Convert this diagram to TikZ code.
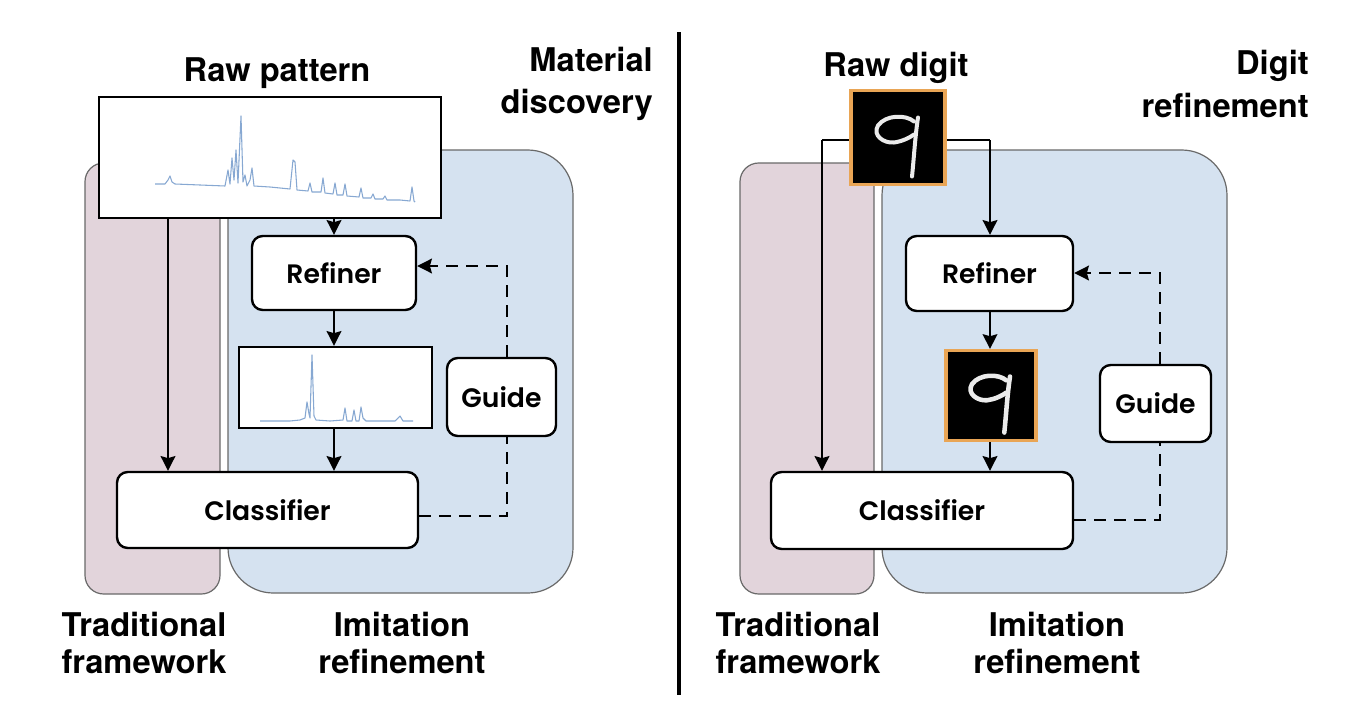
\documentclass[tikz,border=0pt]{standalone}
\usepackage{fontspec}
\setmainfont{TeX Gyre Heros}
\newfontfamily\nodefont{Poppins}[BoldFont={* SemiBold}]
\usetikzlibrary{arrows.meta}
\definecolor{pinkbg}{RGB}{226,212,219}
\definecolor{bluebg}{RGB}{213,226,240}
\definecolor{bgedge}{RGB}{105,105,105}
\definecolor{specblue}{RGB}{135,168,210}
\definecolor{orangeedge}{RGB}{233,165,85}
\tikzset{
  panel/.style={draw=bgedge, line width=0.9pt},
  procbox/.style={draw=black, line width=1.8pt, fill=white, rounded corners=8pt, font=\nodefont\bfseries\fontsize{20}{23}\selectfont, inner sep=0pt},
  imgbox/.style={draw=black, line width=1.8pt, fill=white, inner sep=0pt},
  digbox/.style={draw=orangeedge, line width=2.4pt, fill=black, inner sep=0pt, minimum width=#1, minimum height=#1},
  lab/.style={font=\bfseries\fontsize{24.5}{27.75}\selectfont, align=center, inner sep=0pt},
  toplab/.style={font=\bfseries\fontsize{24.5}{32}\selectfont, align=right, inner sep=0pt, anchor=east},
  tip/.style={-{Stealth[width=11pt,length=11pt,inset=1.5pt]}},
  arr/.style={line width=1.7pt, tip},
  plainln/.style={line width=1.7pt},
  dsh/.style={line width=1.7pt, dash pattern=on 9pt off 6pt},
  spec/.style={draw=specblue, line width=0.8pt, line join=round},
  digit/.style={draw=white!92!black, line width=3pt, line cap=round, line join=round},
}
\begin{document}
\begin{tikzpicture}[x=0.75pt,y=-0.75pt]
\useasboundingbox (0,0) rectangle (1346,714);
% ---------- LEFT PANEL ----------
\fill[pinkbg, panel] (85,163) [rounded corners=14pt] rectangle (220,594);
\fill[bluebg, panel] (228,150) [rounded corners=34pt] rectangle (573,593);
\node[imgbox, minimum width=256.5pt, minimum height=90.75pt] (rawpat) at (270,157.5) {};
\draw[spec] plot coordinates {(155,184) (165,184) (168,180) (170,176) (172,182) (175,184) (200,185) (225,186) (228,170) (230,184) (232,158) (234,180) (236,150) (238,183) (241,116) (243,182) (245,175) (247,186) (250,180) (252,168) (254,186) (270,187) (290,189) (293,160) (295,162) (297,190) (308,191) (310,183) (312,192) (321,192) (323,178) (325,193) (333,194) (335,183) (337,195) (343,195) (345,184) (347,196) (359,197) (361,188) (363,198) (371,198) (373,194) (375,199) (383,199) (385,196) (387,200) (400,200) (410,201) (412,187) (414,201) (415,202)};
\node[lab] (rawpatlab) at (277,73) {Raw pattern};
\node[toplab] (matlab) at (653,84) {Material\\discovery};
\node[procbox, minimum width=123pt, minimum height=55.5pt] (refL) at (334,273) {Refiner};
\node[imgbox, minimum width=144.75pt, minimum height=60.75pt] (refimgL) at (335.5,387.5) {};
\draw[spec] plot coordinates {(260,421) (290,421) (300,420) (305,418) (307,402) (309,414) (310,418) (312,355) (314,416) (316,420) (330,421) (343,420) (345,408) (347,421) (352,421) (354,410) (356,421) (359,421) (361,407) (363,418) (366,421) (395,421) (400,416) (403,421) (413,421)};
\node[procbox, minimum width=81.75pt, minimum height=58.5pt] (guideL) at (501.5,397) {Guide};
\node[procbox, minimum width=225.75pt, minimum height=57pt] (clsL) at (267.5,510) {Classifier};
\coordinate (lA) at (168,0);
\coordinate (lB) at (334,0);
\coordinate (gL1) at (507,516);
\coordinate (gL2) at (507,266);
\draw[arr] (rawpat.south -| lA) -- (clsL.north -| lA);
\draw[arr] (rawpat.south -| lB) -- (refL.north -| lB);
\draw[arr] (refL.south -| lB) -- (refimgL.north -| lB);
\draw[arr] (refimgL.south -| lB) -- (clsL.north -| lB);
\draw[dsh] (clsL.east |- gL1) -- (gL1) -- (guideL.south -| gL1);
\draw[dsh, tip] (guideL.north -| gL2) -- (gL2) -- (refL.east |- gL2);
\node[lab] (tradL) at (144,643) {Traditional\\framework};
\node[lab] (imitL) at (402,643) {Imitation\\refinement};
% ---------- DIVIDER ----------
\coordinate (divT) at (679,32);
\coordinate (divB) at (679,695);
\draw[line width=2.4pt] (divT) -- (divB);
% ---------- RIGHT PANEL ----------
\fill[pinkbg, panel] (740,163) [rounded corners=14pt] rectangle (874,594);
\fill[bluebg, panel] (882,150) [rounded corners=34pt] rectangle (1227,593);
\coordinate (rA) at (822,140);
\coordinate (rB) at (990,140);
\node[procbox, minimum width=125.25pt, minimum height=56.25pt] (refR) at (989.5,273.5) {Refiner};
\node[procbox, minimum width=83.25pt, minimum height=57.75pt] (guideR) at (1155.5,403.5) {Guide};
\node[procbox, minimum width=226.5pt, minimum height=57.75pt] (clsR) at (922,510.5) {Classifier};
\draw[plainln] (898,140) -- (rB);
\draw[arr] (rB) -- (refR.north -| rB);
\draw[plainln] (898,140) -- (rA);
\draw[arr] (rA) -- (clsR.north -| rA);
\node[digbox=70.5pt] (rawdig) at (898,137.5) {};
\begin{scope}[shift={(rawdig.center)}]
\draw[digit] (16,-16) .. controls (8,-23) and (-12,-23) .. (-20,-12) .. controls (-26,-2) and (-14,6) .. (-4,5) .. controls (4,4) and (12,0) .. (16,-3);
\draw[digit] (20,-20) .. controls (17,0) and (16,20) .. (14,39);
\end{scope}
\node[digbox=67.5pt] (refdig) at (991,395.5) {};
\begin{scope}[shift={(refdig.center)}, scale=0.95]
\draw[digit, line width=3.4pt] (16,-16) .. controls (8,-23) and (-12,-23) .. (-20,-12) .. controls (-26,-2) and (-14,6) .. (-4,5) .. controls (4,4) and (12,0) .. (16,-3);
\draw[digit, line width=3.4pt] (20,-20) .. controls (17,0) and (16,20) .. (14,39);
\end{scope}
\coordinate (rC) at (990,0);
\draw[arr] (refR.south -| rC) -- (refdig.north -| rC);
\draw[arr] (refdig.south -| rC) -- (clsR.north -| rC);
\coordinate (gR1) at (1160,520);
\coordinate (gR2) at (1160,273);
\draw[dsh] (clsR.east |- gR1) -- (gR1) -- (guideR.south -| gR1);
\draw[dsh, tip] (guideR.north -| gR2) -- (gR2) -- (refR.east |- gR2);
\node[lab] (rawdiglab) at (896,68) {Raw digit};
\node[toplab] (diglab) at (1309,84) {Digit\\refinement};
\node[lab] (tradR) at (798,643) {Traditional\\framework};
\node[lab] (imitR) at (1057,643) {Imitation\\refinement};
\end{tikzpicture}
\end{document}
